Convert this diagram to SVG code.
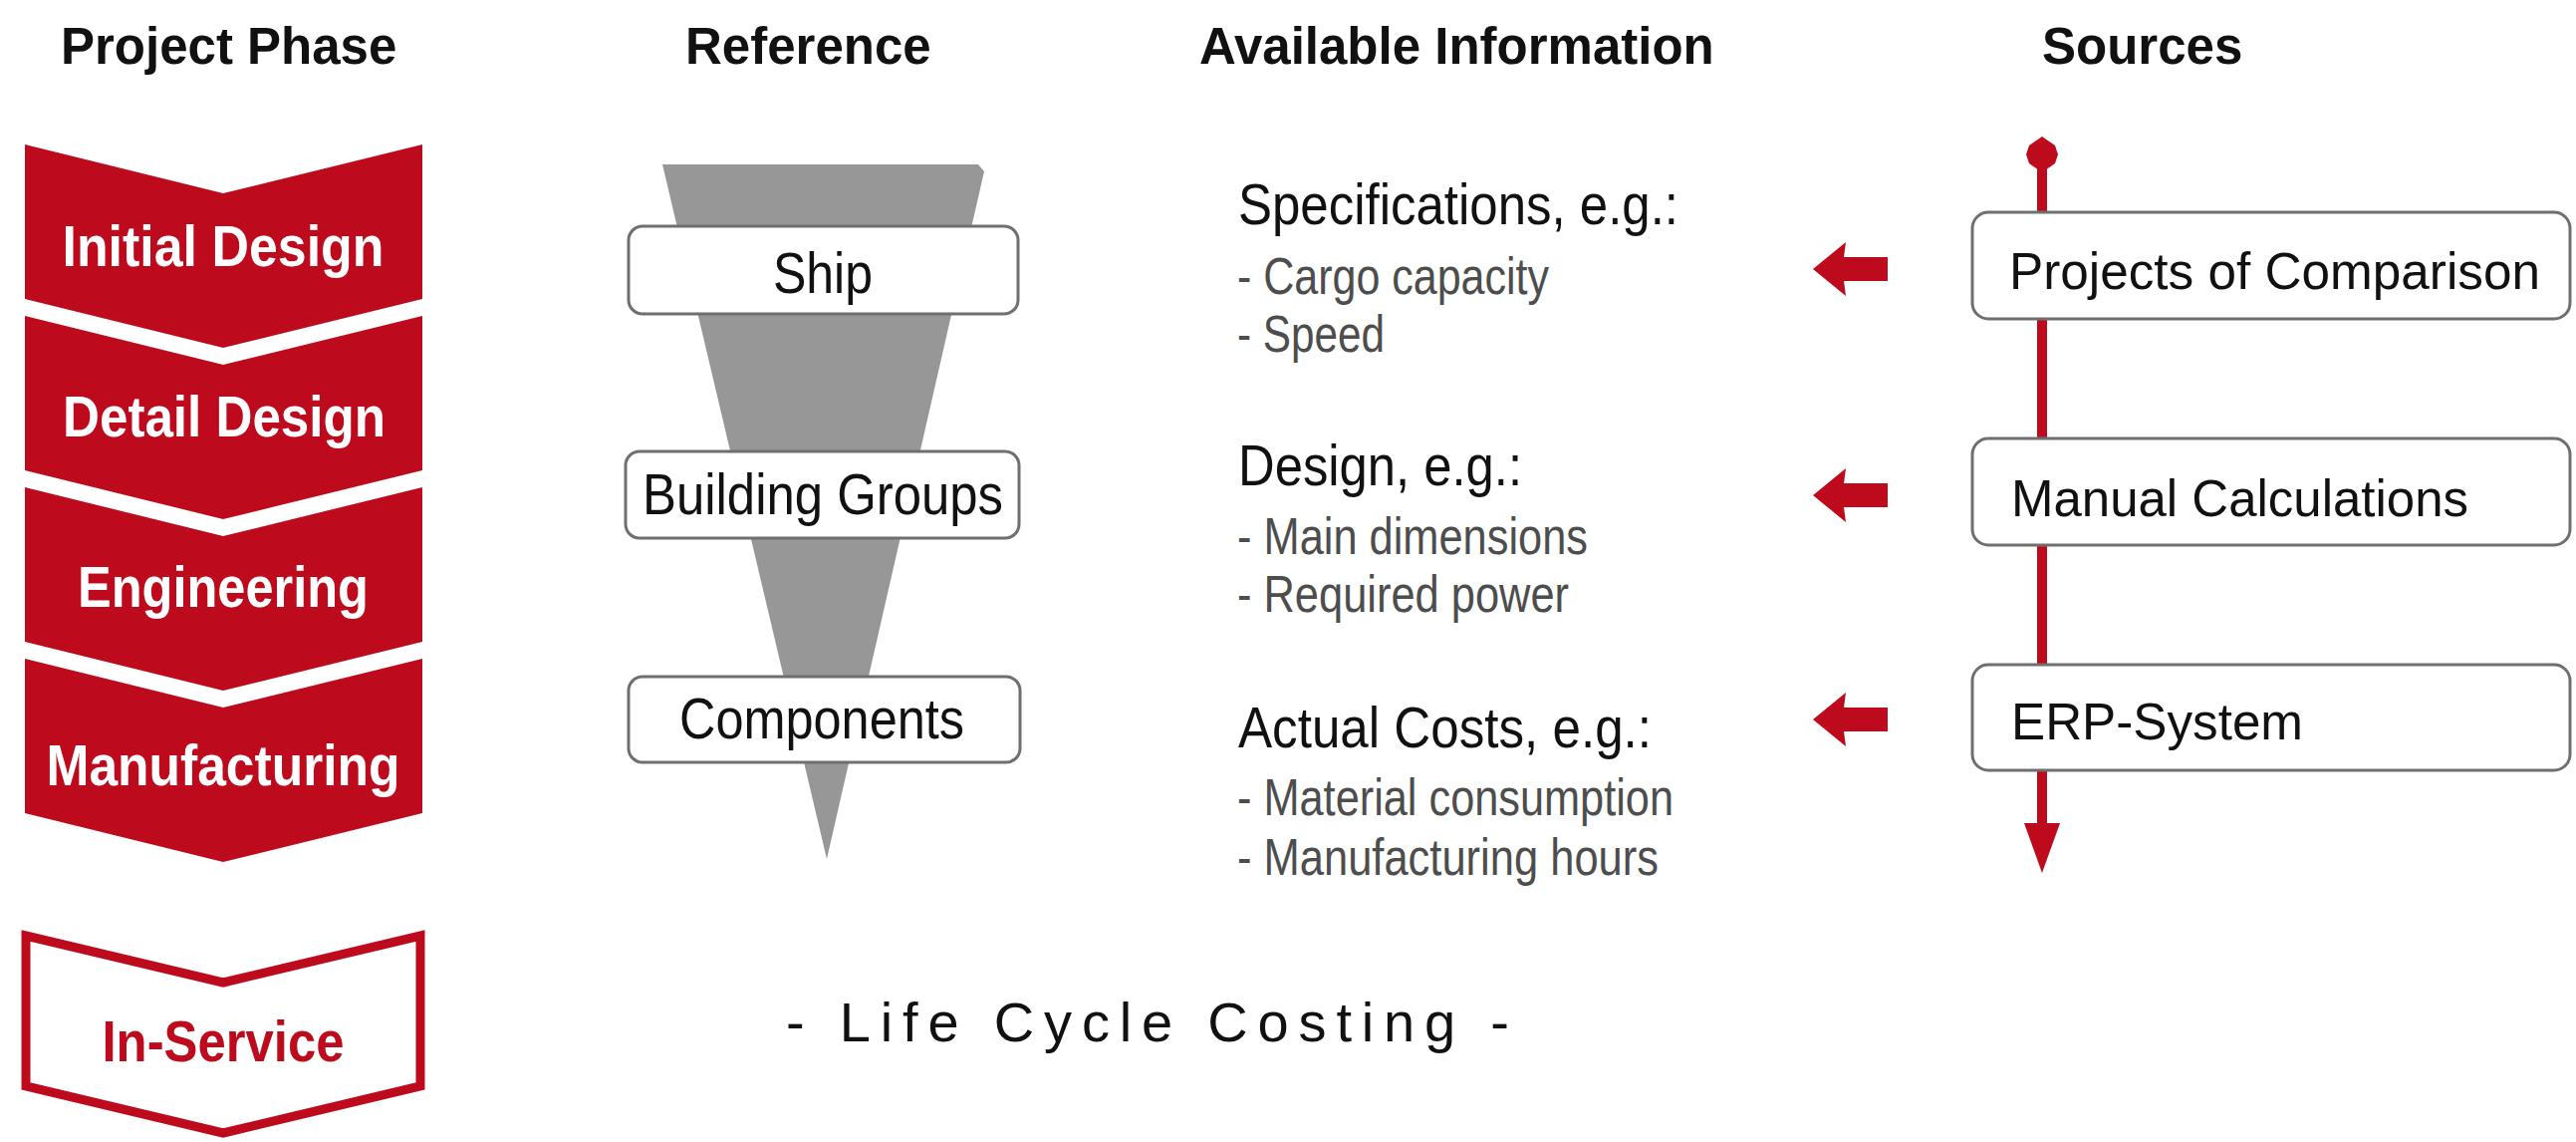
<svg xmlns="http://www.w3.org/2000/svg" xmlns:xlink="http://www.w3.org/1999/xlink" width="2586" height="1146" viewBox="0 0 2586 1146">
  <defs>
    <style>
      .hdr { font-family: "Liberation Sans", Arial, sans-serif; font-weight: bold; font-size: 51px; fill: #111; }
      .phase { fill: #BD0A1C; }
      .phase-out { fill: #fff; stroke: #BD0A1C; stroke-width: 9; stroke-linejoin: miter; }
      .phase-txt { font-family: "Liberation Sans", Arial, sans-serif; font-weight: bold; font-size: 57px; fill: #fff; text-anchor: middle; }
      .phase-txt-red { font-family: "Liberation Sans", Arial, sans-serif; font-weight: bold; font-size: 57px; fill: #BD0A1C; text-anchor: middle; }
      .box { fill: #fff; stroke: #6f6f6f; stroke-width: 3; }
      .box-txt { font-family: "Liberation Sans", Arial, sans-serif; font-size: 52px; fill: #111; }
      .box-txt-c { font-family: "Liberation Sans", Arial, sans-serif; font-size: 57px; fill: #111; text-anchor: middle; }
      .info-h { font-family: "Liberation Sans", Arial, sans-serif; font-size: 58px; fill: #111; }
      .info-i { font-family: "Liberation Sans", Arial, sans-serif; font-size: 52px; fill: #4d4d4d; }
      .lcc { font-family: "Liberation Sans", Arial, sans-serif; font-size: 56px; fill: #111; }
      .red-line { stroke: #BD0A1C; stroke-width: 10; fill: none; }
      .red-fill { fill: #BD0A1C; }
    </style>
    <!-- block arrow pointing left, tip at origin -->
    <path id="blockArrow" d="M0,0 L33,-27 L31,-12 L75,-12 L75,12 L31,12 L33,27 Z"/>
  </defs>

  <rect x="0" y="0" width="2586" height="1146" fill="#fff"/>

  <!-- column headings -->
  <g id="headings">
    <text class="hdr" x="61" y="64">Project Phase</text>
    <text class="hdr" x="688" y="64">Reference</text>
    <text class="hdr" x="1204" y="64">Available Information</text>
    <text class="hdr" x="2050" y="64">Sources</text>
  </g>

  <!-- project phases (chevrons) -->
  <g id="phase-initial-design">
    <polygon class="phase" points="25,145 224,194 424,145 424,300 224,349 25,300"/>
    <text class="phase-txt" x="224" y="267" textLength="323" lengthAdjust="spacingAndGlyphs">Initial Design</text>
  </g>
  <g id="phase-detail-design">
    <polygon class="phase" points="25,317 224,366 424,317 424,472 224,521 25,472"/>
    <text class="phase-txt" x="225" y="438" textLength="324" lengthAdjust="spacingAndGlyphs">Detail Design</text>
  </g>
  <g id="phase-engineering">
    <polygon class="phase" points="25,489 224,538 424,489 424,644 224,693 25,644"/>
    <text class="phase-txt" x="224" y="609" textLength="292" lengthAdjust="spacingAndGlyphs">Engineering</text>
  </g>
  <g id="phase-manufacturing">
    <polygon class="phase" points="25,661 224,710 424,661 424,816 224,865 25,816"/>
    <text class="phase-txt" x="224" y="788" textLength="355" lengthAdjust="spacingAndGlyphs">Manufacturing</text>
  </g>
  <g id="phase-in-service">
    <polygon class="phase-out" points="26,939 224,986 422,939 422,1090 224,1137 26,1090"/>
    <text class="phase-txt-red" x="224" y="1065" textLength="243" lengthAdjust="spacingAndGlyphs">In-Service</text>
  </g>

  <!-- reference level wedge -->
  <g id="reference-wedge">
    <polygon points="665,165 982,165 988,172 830,862" fill="#979797"/>
  </g>
  <g id="ref-ship">
    <rect class="box" x="631" y="227" width="391" height="88" rx="14"/>
    <text class="box-txt-c" x="826" y="294" textLength="100" lengthAdjust="spacingAndGlyphs">Ship</text>
  </g>
  <g id="ref-building-groups">
    <rect class="box" x="628" y="453" width="395" height="87" rx="14"/>
    <text class="box-txt-c" x="826" y="516" textLength="362" lengthAdjust="spacingAndGlyphs">Building Groups</text>
  </g>
  <g id="ref-components">
    <rect class="box" x="631" y="679" width="393" height="86" rx="14"/>
    <text class="box-txt-c" x="825" y="741" textLength="286" lengthAdjust="spacingAndGlyphs">Components</text>
  </g>

  <!-- available information -->
  <g id="info-specifications">
    <text class="info-h" x="1243" y="225" textLength="442" lengthAdjust="spacingAndGlyphs">Specifications, e.g.:</text>
    <text class="info-i" x="1242" y="295" textLength="313" lengthAdjust="spacingAndGlyphs">- Cargo capacity</text>
    <text class="info-i" x="1242" y="353" textLength="148" lengthAdjust="spacingAndGlyphs">- Speed</text>
  </g>
  <g id="info-design">
    <text class="info-h" x="1243" y="487" textLength="285" lengthAdjust="spacingAndGlyphs">Design, e.g.:</text>
    <text class="info-i" x="1242" y="556" textLength="352" lengthAdjust="spacingAndGlyphs">- Main dimensions</text>
    <text class="info-i" x="1242" y="614" textLength="333" lengthAdjust="spacingAndGlyphs">- Required power</text>
  </g>
  <g id="info-actual-costs">
    <text class="info-h" x="1243" y="750" textLength="415" lengthAdjust="spacingAndGlyphs">Actual Costs, e.g.:</text>
    <text class="info-i" x="1242" y="818" textLength="438" lengthAdjust="spacingAndGlyphs">- Material consumption</text>
    <text class="info-i" x="1242" y="878" textLength="423" lengthAdjust="spacingAndGlyphs">- Manufacturing hours</text>
  </g>

  <!-- connectors: time axis through the sources and arrows towards the information -->
  <g id="connectors">
    <polygon class="red-fill" points="2050,137 2063,146 2066,155 2063,164 2050,173 2037,164 2034,155 2037,146"/>
    <line class="red-line" x1="2050" y1="160" x2="2050" y2="830"/>
    <polygon class="red-fill" points="2032,826 2068,826 2050,876"/>
    <use xlink:href="#blockArrow" href="#blockArrow" class="red-fill" x="1820" y="270"/>
    <use xlink:href="#blockArrow" href="#blockArrow" class="red-fill" x="1820" y="497"/>
    <use xlink:href="#blockArrow" href="#blockArrow" class="red-fill" x="1820" y="722"/>
  </g>

  <!-- sources -->
  <g id="src-projects-of-comparison">
    <rect class="box" x="1980" y="213" width="600" height="107" rx="16"/>
    <text class="box-txt" x="2017" y="290" textLength="533" lengthAdjust="spacingAndGlyphs">Projects of Comparison</text>
  </g>
  <g id="src-manual-calculations">
    <rect class="box" x="1980" y="440" width="600" height="107" rx="16"/>
    <text class="box-txt" x="2019" y="518" textLength="459" lengthAdjust="spacingAndGlyphs">Manual Calculations</text>
  </g>
  <g id="src-erp-system">
    <rect class="box" x="1980" y="667" width="600" height="106" rx="16"/>
    <text class="box-txt" x="2019" y="742" textLength="293" lengthAdjust="spacingAndGlyphs">ERP-System</text>
  </g>

  <!-- footer caption -->
  <g id="caption">
    <text class="lcc" x="789" y="1045" textLength="726" lengthAdjust="spacing">- Life Cycle Costing -</text>
  </g>
</svg>
